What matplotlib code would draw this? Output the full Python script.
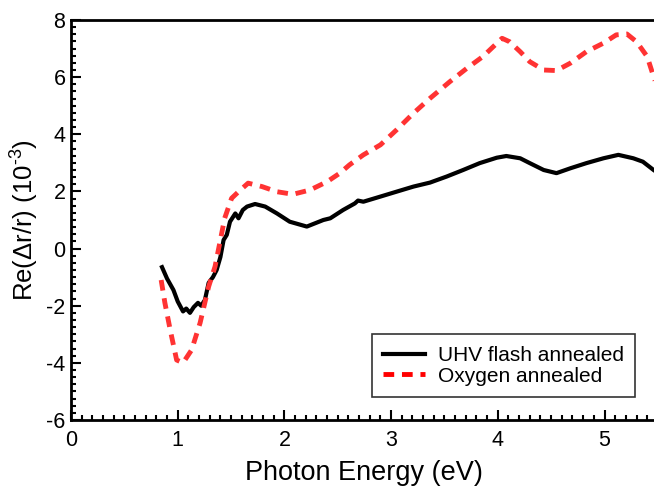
import matplotlib
matplotlib.use("Agg")
import matplotlib.pyplot as plt
from matplotlib.ticker import MultipleLocator

plt.rcParams['font.family'] = ['Liberation Sans', 'DejaVu Sans']
plt.rcParams['mathtext.fontset'] = 'custom'
plt.rcParams['mathtext.rm'] = 'Liberation Sans'
plt.rcParams['mathtext.it'] = 'Liberation Sans'
plt.rcParams['axes.unicode_minus'] = False

# UHV flash annealed sample
uhv_e = [0.853, 0.90, 0.96, 1.00, 1.05, 1.08, 1.115, 1.15, 1.19, 1.22, 1.255, 1.29,
         1.33, 1.365, 1.40, 1.43, 1.46, 1.49, 1.54, 1.57, 1.61, 1.65, 1.725, 1.82,
         1.93, 2.05, 2.21, 2.365, 2.43, 2.55, 2.66, 2.69, 2.74, 2.90, 3.05, 3.21,
         3.365, 3.52, 3.675, 3.83, 3.99, 4.08, 4.21, 4.30, 4.43, 4.55, 4.68, 4.83,
         4.99, 5.13, 5.20, 5.27, 5.36, 5.46, 5.50]
uhv_r = [-0.65, -1.05, -1.45, -1.85, -2.2, -2.1, -2.25, -2.05, -1.9, -2.0, -1.8, -1.2,
         -1.0, -0.75, -0.3, 0.3, 0.48, 0.94, 1.23, 1.06, 1.35, 1.47, 1.56, 1.47,
         1.23, 0.94, 0.77, 1.0, 1.06, 1.35, 1.58, 1.68, 1.64, 1.82, 1.99, 2.17,
         2.31, 2.52, 2.75, 2.99, 3.18, 3.24, 3.16, 2.99, 2.75, 2.64, 2.81, 2.99,
         3.16, 3.28, 3.22, 3.16, 3.04, 2.75, 2.65]

# Oxygen annealed sample
oxy_e = [0.845, 0.88, 0.93, 0.99, 1.05, 1.13, 1.21, 1.29, 1.35, 1.40, 1.44, 1.505,
         1.57, 1.66, 1.79, 1.93, 2.08, 2.24, 2.40, 2.52, 2.61, 2.74, 2.90, 3.05,
         3.21, 3.365, 3.55, 3.71, 3.86, 4.04, 4.11, 4.21, 4.30, 4.43, 4.55, 4.68,
         4.83, 4.99, 5.11, 5.21, 5.30, 5.40, 5.46, 5.50]
oxy_r = [-1.1, -1.9, -2.85, -3.9, -4.0, -3.55, -2.6, -1.33, -0.63, 0.3, 1.06, 1.76,
         1.99, 2.29, 2.17, 1.99, 1.9, 2.05, 2.34, 2.64, 2.93, 3.28, 3.63, 4.15,
         4.74, 5.26, 5.84, 6.31, 6.72, 7.36, 7.24, 6.89, 6.54, 6.25, 6.23, 6.49,
         6.89, 7.19, 7.48, 7.51, 7.24, 6.72, 6.02, 5.6]

# axes box in pixels: left spine at x=71, data 0..5.5 at 106.7 px per eV
ax_w = 5.5 * 106.7
fig = plt.figure(figsize=(6.54, 4.87), dpi=100)
ax = fig.add_axes([71 / 654, 1 - 420 / 487, ax_w / 654, 400 / 487])

ax.plot(uhv_e, uhv_r, color='black', lw=3, label='UHV flash annealed')
ax.plot(oxy_e, oxy_r, color='#ff3333', lw=3.5, ls=(0, (2.2, 1.6)),
        label='Oxygen annealed')

ax.set_xlim(0, 5.5)
ax.set_ylim(-6, 8)
ax.xaxis.set_major_locator(MultipleLocator(1))
ax.xaxis.set_minor_locator(MultipleLocator(0.1))
ax.yaxis.set_major_locator(MultipleLocator(2))
ax.yaxis.set_minor_locator(MultipleLocator(0.25))
ax.tick_params(which='both', direction='in', width=1.5, labelsize=15.5)
ax.tick_params(which='major', length=7)
ax.tick_params(which='minor', length=3.5)
ax.tick_params(axis='x', pad=7)
ax.tick_params(axis='y', pad=4)
for s in ax.spines.values():
    s.set_linewidth(2)
ax.spines['right'].set_visible(False)

ax.set_xlabel('Photon Energy (eV)', fontsize=19.5, labelpad=7)
ax.set_ylabel('Re(Δr/r) (10$^{\u2010 3}$)', fontsize=18.5, labelpad=4)

leg = ax.legend(loc='lower right', bbox_to_anchor=((635 - 71) / ax_w, 23 / 400),
                borderaxespad=0, fontsize=15, frameon=True, fancybox=False,
                handlelength=2.0, handletextpad=0.6, borderpad=0.55,
                labelspacing=0.08)
leg.get_frame().set_edgecolor('black')
leg.get_frame().set_linewidth(1.2)
leg.get_lines()[1].set_color('red')

fig.savefig('out.png', dpi=100)
